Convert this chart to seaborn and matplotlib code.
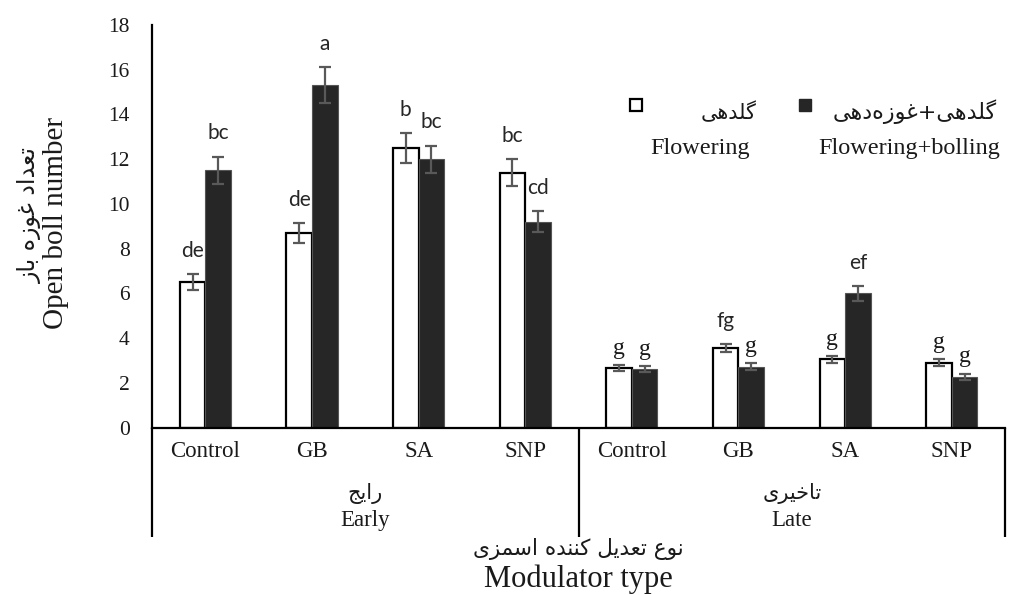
import matplotlib
matplotlib.use("Agg")
import matplotlib.pyplot as plt
import seaborn as sns
import pandas as pd

# ---------------- data ----------------
groups = ["Early", "Early", "Early", "Early", "Late", "Late", "Late", "Late"]
groups_fa = ["رایج", "تاخیری"]
treatments = ["Control", "GB", "SA", "SNP", "Control", "GB", "SA", "SNP"]
series_names = ["Flowering", "Flowering+bolling"]
series_names_fa = ["گلدهی", "گلدهی+غوزه\u200cدهی"]
flowering = [6.5, 8.7, 12.5, 11.4, 2.65, 3.55, 3.05, 2.9]
flowering_err = [0.35, 0.43, 0.66, 0.59, 0.13, 0.17, 0.16, 0.17]
flowering_bolling = [11.5, 15.3, 12.0, 9.2, 2.63, 2.72, 6.0, 2.27]
flowering_bolling_err = [0.6, 0.8, 0.61, 0.47, 0.13, 0.16, 0.33, 0.14]
letters_flowering = ["de", "de", "b", "bc", "g", "fg", "g", "g"]
letters_bolling = ["bc", "a", "bc", "cd", "g", "g", "ef", "g"]
yticks = [0, 2, 4, 6, 8, 10, 12, 14, 16, 18]
ylabel_en = "Open boll number"
ylabel_fa = "تعداد غوزه باز"
xlabel_en = "Modulator type"
xlabel_fa = "نوع تعدیل کننده اسمزی"

# ------------- minimal Persian shaping (presentation forms, visual order) -------------
FORMS = {
    'ا': ('\uFE8D', '\uFE8E', '\uFE8D', '\uFE8E'),
    'د': ('\uFEA9', '\uFEAA', '\uFEA9', '\uFEAA'),
    'ر': ('\uFEAD', '\uFEAE', '\uFEAD', '\uFEAE'),
    'ز': ('\uFEAF', '\uFEB0', '\uFEAF', '\uFEB0'),
    'و': ('\uFEED', '\uFEEE', '\uFEED', '\uFEEE'),
    'ب': ('\uFE8F', '\uFE90', '\uFE91', '\uFE92'),
    'ت': ('\uFE95', '\uFE96', '\uFE97', '\uFE98'),
    'ج': ('\uFE9D', '\uFE9E', '\uFE9F', '\uFEA0'),
    'خ': ('\uFEA5', '\uFEA6', '\uFEA7', '\uFEA8'),
    'س': ('\uFEB1', '\uFEB2', '\uFEB3', '\uFEB4'),
    'ع': ('\uFEC9', '\uFECA', '\uFECB', '\uFECC'),
    'غ': ('\uFECD', '\uFECE', '\uFECF', '\uFED0'),
    'ل': ('\uFEDD', '\uFEDE', '\uFEDF', '\uFEE0'),
    'م': ('\uFEE1', '\uFEE2', '\uFEE3', '\uFEE4'),
    'ن': ('\uFEE5', '\uFEE6', '\uFEE7', '\uFEE8'),
    'ه': ('\uFEE9', '\uFEEA', '\uFEEB', '\uFEEC'),
    'ی': ('\uFBFC', '\uFBFD', '\uFBFE', '\uFBFF'),
    'ک': ('\uFB8E', '\uFB8F', '\uFB90', '\uFB91'),
    'گ': ('\uFB92', '\uFB93', '\uFB94', '\uFB95'),
}
RIGHT_ONLY = set('ادرزو')
DUAL = set(FORMS) - RIGHT_ONLY


def fa(s):
    out = []
    for i, c in enumerate(s):
        if c == '\u200c':
            continue
        if c not in FORMS:
            out.append(c)
            continue
        prev = s[i - 1] if i > 0 else None
        nxt = s[i + 1] if i + 1 < len(s) else None
        cp = prev is not None and prev in DUAL
        cn = c in DUAL and nxt is not None and nxt in FORMS
        iso, fin, ini, med = FORMS[c]
        out.append(med if (cp and cn) else fin if cp else ini if cn else iso)
    return ''.join(reversed(out))


# ---------------- figure ----------------
sns.set_style("white")
plt.rcParams['font.family'] = ['Liberation Serif', 'DejaVu Sans']
SERIF = ['Liberation Serif', 'DejaVu Sans']
FAFONT = ['DejaVu Sans']
TXT = '#1a1a1a'

fig = plt.figure(figsize=(10.14, 5.95), dpi=100)
ax = fig.add_axes([0.1499, 0.2815, 0.8413, 0.6765])

cats = [f"{g}-{t}" for g, t in zip(groups, treatments)]
df = pd.DataFrame({
    "cat": cats * 2,
    "value": flowering + flowering_bolling,
    "series": [series_names[0]] * 8 + [series_names[1]] * 8,
})
palette = {series_names[0]: "white", series_names[1]: "#262626"}
sns.barplot(data=df, x="cat", y="value", hue="series", order=cats,
            hue_order=series_names, palette=palette, width=0.48, gap=0,
            errorbar=None, legend=False, ax=ax, saturation=1)

errs = [flowering_err, flowering_bolling_err]
vals = [flowering, flowering_bolling]
letters = [letters_flowering, letters_bolling]
bar_containers = list(ax.containers)[:2]
for k, cont in enumerate(bar_containers):
    xs = []
    for bar in cont.patches:
        if k == 0:
            bar.set_edgecolor('black')
            bar.set_linewidth(1.6)
        else:
            bar.set_edgecolor('#555555')
            bar.set_linewidth(0.8)
        xs.append(bar.get_x() + bar.get_width() / 2)
    ax.errorbar(xs, vals[k], yerr=errs[k], fmt='none', ecolor='#595959',
                elinewidth=1.6, capsize=4.3, capthick=1.6, zorder=5)
    for x, v, e, lab in zip(xs, vals[k], errs[k], letters[k]):
        if lab == 'g':
            ax.text(x, v + e + 0.5, lab, ha='center', va='baseline',
                    fontsize=17, family=SERIF, color=TXT)
        else:
            ax.text(x, v + e + 0.78, lab, ha='center', va='baseline',
                    fontsize=15, family=['Lato', 'DejaVu Sans'], color='#262626')

ax.set_xlim(-0.5, 7.5)
ax.set_ylim(0, 18)
ax.set_yticks(yticks)
ax.set_yticklabels([str(t) for t in yticks], fontsize=15.5, color=TXT)
ax.set_xticks(range(8))
ax.set_xticklabels(treatments, fontsize=16.5, color=TXT)
ax.tick_params(axis='y', length=0, pad=16)
ax.tick_params(axis='x', length=0, pad=10)
ax.set_xlabel("")
ax.set_ylabel("")
for s in ['top', 'right']:
    ax.spines[s].set_visible(False)
for s in ['left', 'bottom']:
    ax.spines[s].set_color('black')
    ax.spines[s].set_linewidth(1.6)

# group separators below the axis
xt = ax.get_xaxis_transform()
for xb in [-0.5, 3.5, 7.5]:
    ax.plot([xb, xb], [0, -0.272], transform=xt, color='black', lw=1.6,
            clip_on=False, solid_capstyle='butt')

# group labels
for gc, gname, gfa in [(1.5, "Early", groups_fa[0]), (5.5, "Late", groups_fa[1])]:
    ax.text(gc, -0.163, fa(gfa), transform=xt, ha='center', va='center',
            fontsize=15, family=FAFONT, color=TXT)
    ax.text(gc, -0.232, gname, transform=xt, ha='center', va='center',
            fontsize=16.5, family=SERIF, color=TXT)

# axis titles
ax.text(0.5, -0.302, fa(xlabel_fa), transform=ax.transAxes, ha='center',
        va='center', fontsize=15.5, family=FAFONT, color=TXT)
ax.text(0.5, -0.378, xlabel_en, transform=ax.transAxes, ha='center',
        va='center', fontsize=22, family=SERIF, color=TXT)
fig.text(0.0552, 0.6252, ylabel_en, rotation=90, ha='center', va='center',
         fontsize=21, family=SERIF, color=TXT)
fig.text(0.0296, 0.6387, fa(ylabel_fa), rotation=90, ha='center', va='center',
         fontsize=17, family=FAFONT, color=TXT)

# legend (manual)
ax.plot([0.567], [0.800], marker='s', markersize=9, markerfacecolor='white',
        markeredgecolor='black', markeredgewidth=1.6, transform=ax.transAxes,
        clip_on=False, linestyle='none')
ax.plot([0.7655], [0.801], marker='s', markersize=8.5, markerfacecolor='#262626',
        markeredgecolor='#262626', transform=ax.transAxes, clip_on=False,
        linestyle='none')
ax.text(0.709, 0.784, fa(series_names_fa[0]), transform=ax.transAxes,
        ha='right', va='center', fontsize=15, family=FAFONT, color=TXT)
ax.text(0.642, 0.694, series_names[0], transform=ax.transAxes, ha='center',
        va='center', fontsize=17.5, family=SERIF, color=TXT)
ax.text(0.8945, 0.784, fa(series_names_fa[1]), transform=ax.transAxes,
        ha='center', va='center', fontsize=16, family=FAFONT, color=TXT)
ax.text(0.8875, 0.694, series_names[1], transform=ax.transAxes, ha='center',
        va='center', fontsize=17.5, family=SERIF, color=TXT)

fig.savefig("out.png", dpi=100)
